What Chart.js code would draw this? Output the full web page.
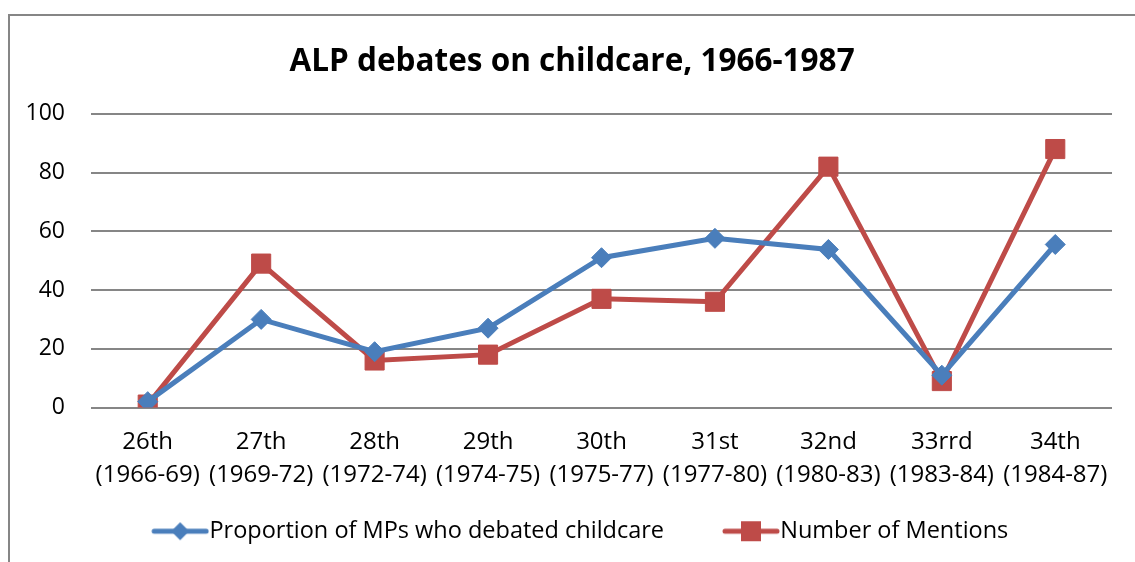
<!DOCTYPE html>
<html>
<head>
<meta charset="utf-8">
<script src="https://cdn.jsdelivr.net/npm/chart.js@4.4.0/dist/chart.umd.min.js"></script>
<style>
  body { margin: 0; background: #fff; }
  #box { position: absolute; left: 8px; top: 14px; width: 1134px; height: 560px;
         border: 2px solid #868686; box-sizing: border-box; }
  #chart1 { display: block; }
</style>
</head>
<body>
<div id="box"><canvas id="chart1"></canvas></div>
<script>
const labels = [
  ['26th', '(1966-69)'], ['27th', '(1969-72)'], ['28th', '(1972-74)'],
  ['29th', '(1974-75)'], ['30th', '(1975-77)'], ['31st', '(1977-80)'],
  ['32nd', '(1980-83)'], ['33rrd', '(1983-84)'], ['34th', '(1984-87)']
];
const proportionMPs = [2, 30, 19, 27, 51, 57.6, 53.8, 11, 55.5];
const mentions = [1, 49, 16, 18, 37, 36, 82, 9, 88];
const yTicks = [0, 20, 40, 60, 80, 100];

const blue = '#4a7ebb';
const red = '#be4b48';
const font = 'Open Sans';
const slot = 70; // legend box width

// legend picture: line with the marker in the middle, pushed to the right of the slot
function legendIcon(color, shape) {
  const c = document.createElement('canvas');
  c.width = slot + 23; c.height = 22;
  const g = c.getContext('2d');
  g.translate(c.width - 58, 0);
  g.strokeStyle = color; g.lineWidth = 5; g.lineCap = 'round';
  g.beginPath(); g.moveTo(3, 11); g.lineTo(55, 11); g.stroke();
  g.fillStyle = color;
  g.beginPath();
  if (shape === 'diamond') {
    g.moveTo(29, 2); g.lineTo(38, 11); g.lineTo(29, 20); g.lineTo(20, 11);
  } else {
    g.rect(19, 1, 20, 20);
  }
  g.fill();
  return c;
}

const chart1 = document.getElementById('chart1');

new Chart(chart1, {
  type: 'line',
  data: {
    labels: labels,
    datasets: [{
      label: 'Proportion of MPs who debated childcare',
      data: proportionMPs,
      borderColor: blue,
      backgroundColor: blue,
      borderWidth: 5,
      pointStyle: 'rectRot',
      pointRadius: 10,
      pointHoverRadius: 10,
      pointBorderWidth: 1,
      tension: 0
    }, {
      label: 'Number of Mentions',
      data: mentions,
      borderColor: red,
      backgroundColor: red,
      borderWidth: 5,
      pointStyle: 'rect',
      pointRadius: 13.5,
      pointHoverRadius: 13.5,
      pointBorderWidth: 1,
      tension: 0
    }]
  },
  options: {
    responsive: true,
    maintainAspectRatio: false,
    animation: false,
    layout: { padding: { left: 14, right: 28, top: 10, bottom: 19 } },
    plugins: {
      title: {
        display: true,
        text: '\u00a0ALP debates on childcare, 1966-1987',
        color: '#000',
        font: { family: font, size: 31.5, weight: 'bold' },
        padding: { top: 17, bottom: 33 }
      },
      legend: {
        position: 'bottom',
        labels: {
          color: '#000',
          font: { family: font, size: 23.5 },
          usePointStyle: true,
          pointStyleWidth: slot,
          padding: 10,
          generateLabels: (chart) => chart.data.datasets.map((ds, i) => ({
            text: i === 0 ? ds.label + '\u00a0\u00a0\u00a0\u00a0' : ds.label,
            pointStyle: legendIcon(ds.borderColor, i === 0 ? 'diamond' : 'square'),
            fontColor: '#000',
            datasetIndex: i,
            lineWidth: 0
          }))
        }
      },
      tooltip: { enabled: false }
    },
    scales: {
      x: {
        offset: true,
        grid: { display: false, drawTicks: false },
        border: { display: false },
        ticks: { color: '#000', font: { family: font, size: 24, lineHeight: 1.375 }, padding: 18, maxRotation: 0 }
      },
      y: {
        min: 0,
        max: 100,
        afterBuildTicks: (s) => { s.ticks = yTicks.map(v => ({ value: v })); },
        afterFit: (s) => { s.width = 67; },
        grid: { color: '#868686', lineWidth: 2, drawTicks: false },
        border: { display: false },
        ticks: { color: '#000', font: { family: font, size: 23 }, padding: 26 }
      }
    }
  }
});
</script>
</body>
</html>
